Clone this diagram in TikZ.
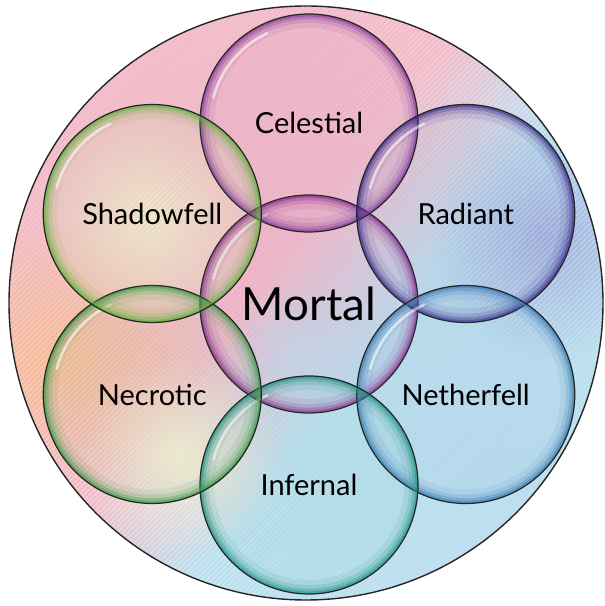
\documentclass[tikz,border=0pt]{standalone}
\usepackage{fontspec}
\setmainfont{Lato}
\usetikzlibrary{fadings,patterns.meta}

\definecolor{fondorosa}{HTML}{F3BCCA}
\definecolor{fondoazul}{HTML}{BCE0F0}
\definecolor{fondonaranja}{HTML}{F6BD94}
\definecolor{fondocrema}{HTML}{F6EED2}
\definecolor{fondomorado}{HTML}{9DAADB}
\definecolor{rayarojo}{HTML}{E4607A}
\definecolor{rayaazul}{HTML}{6AAED6}
\definecolor{celeste}{HTML}{8A3C9C}
\definecolor{radiante}{HTML}{3B2F8E}
\definecolor{nether}{HTML}{3C7DB4}
\definecolor{infernal}{HTML}{1E9484}
\definecolor{necrotico}{HTML}{3D9B48}
\definecolor{sombra}{HTML}{62B23A}
\definecolor{mortalc}{HTML}{8E2F90}

\pgfdeclareverticalshading{fondo}{100bp}{color(0bp)=(fondoazul); color(43bp)=(fondoazul);
  color(54bp)=(fondorosa); color(100bp)=(fondorosa)}
\tikzfading[name=mancha, inner color=transparent!0, outer color=transparent!100]

\tikzset{
  burbuja/.style={circle, minimum size=4.36cm, inner sep=0pt, fill=#1, fill opacity=.05,
    text opacity=1, text=black, draw=black!85, line width=.7pt,
    font=\fontsize{16.5}{18}\selectfont,
    path picture={
      \foreach \w/\o in {16/.1,10/.18,6/.3,3/.5}
        \draw[#1, line width=\w pt, opacity=\o] (path picture bounding box.center) circle (2.18cm);
      \draw[white, line width=1.6pt, opacity=.55, line cap=round]
        (path picture bounding box.center) ++(115:1.98) arc (115:165:1.98);
    }},
  rayado/.style={pattern={Lines[angle=45,distance=2.2pt,line width=.55pt]}, pattern color=#1},
}

\begin{document}
\begin{tikzpicture}
  \useasboundingbox (0,0) rectangle (12.1,12.12);
  % fondo
  \begin{scope}
    \clip (6.12,6.06) circle (5.94);
    \shade[shading=fondo, shading angle=52] (0,0) rectangle (12.1,12.12);
    \fill[fondonaranja, path fading=mancha] (1.2,5.0) circle (2.9);
    \fill[fondocrema, path fading=mancha] (3.6,3.0) circle (2.0);
    \fill[fondocrema, path fading=mancha] (3.0,7.8) circle (2.3);
    \fill[fondomorado, path fading=mancha, opacity=.85] (11.0,7.3) circle (2.4);
    \fill[fondoazul, path fading=mancha, opacity=.7] (6.0,5.0) circle (1.5);
    \fill[rayado=rayarojo, path fading=mancha, opacity=.35] (3.8,9.2) circle (6.5);
    \fill[rayado=rayaazul, path fading=mancha, opacity=.35] (10.0,2.2) circle (6.0);
    \fill[rayado=white, opacity=.35] (0,0) rectangle (12.1,12.12);
  \end{scope}
  \draw[black!85, line width=.8pt] (6.12,6.06) circle (5.94);
  % planos
  \node[burbuja=mortalc, font=\fontsize{26}{28}\selectfont] (mortal) at (6.18,6.04) {Mortal};
  \foreach \ang/\nombre/\texto/\col in {90/celestial/Celestial/celeste, 30/radiant/Radiant/radiante,
      -30/netherfell/Netherfell/nether, -90/infernal/Infernal/infernal,
      210/necrotic/Necrotic/necrotico, 150/shadowfell/Shadowfell/sombra}
    \node[burbuja=\col] (\nombre) at ([shift={(\ang:3.62)}]mortal) {\texto};
\end{tikzpicture}
\end{document}
